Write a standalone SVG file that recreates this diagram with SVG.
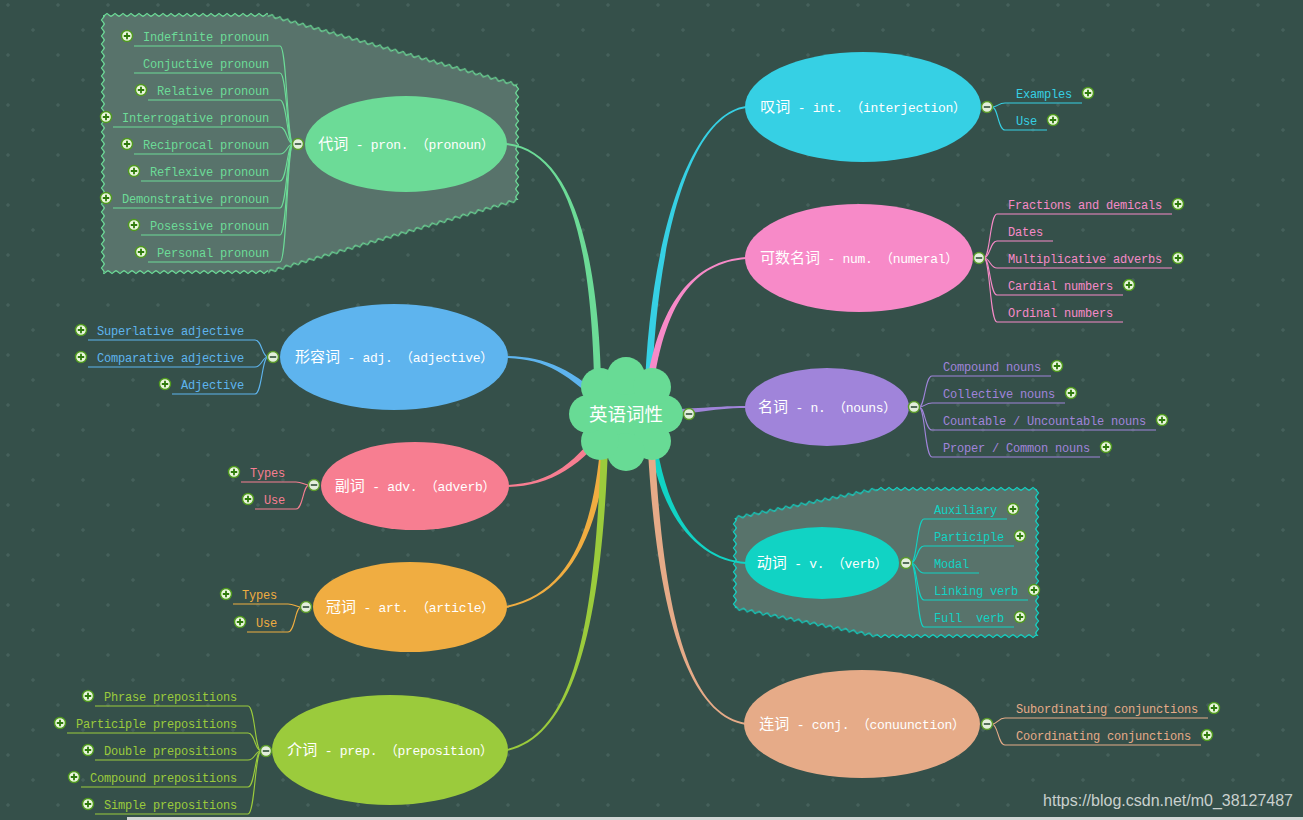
<svg xmlns="http://www.w3.org/2000/svg" xmlns:xlink="http://www.w3.org/1999/xlink" width="1303" height="820" viewBox="0 0 1303 820">
<style>
.bnd{fill:#58736b}
.lf{font-family:"Liberation Mono","DejaVu Sans Mono",monospace;font-size:12px;letter-spacing:-0.2px}
.le{text-anchor:end}
.mt{font-family:"Liberation Mono","Noto Sans CJK SC",monospace;font-size:13px;letter-spacing:-0.3px;fill:#ffffff;text-anchor:middle}
.cj{font-family:"Noto Sans CJK SC",sans-serif;font-size:15px;letter-spacing:0}
.lk{fill:none;stroke-width:1.1}
.wm{font-family:"Liberation Sans",Arial,sans-serif;font-size:16px;fill:#c9d0ce;text-anchor:end}
</style>
<defs>
<pattern id="dots" width="50" height="50" patternUnits="userSpaceOnUse">
<path d="M8 3v4M6 5h4M33 28v4M31 30h4" stroke="#4a655f" stroke-width="1"/>
</pattern>
<pattern id="zzg" width="8" height="6" x="0" y="-3" patternUnits="userSpaceOnUse">
<path d="M0 4.5L4 1.5L8 4.5" fill="none" stroke="#6cdb97" stroke-width="1.2"/>
</pattern>
<pattern id="zzc" width="8" height="6" x="0" y="-3" patternUnits="userSpaceOnUse">
<path d="M0 4.5L4 1.5L8 4.5" fill="none" stroke="#11d3c4" stroke-width="1.2"/>
</pattern>
<g id="pl"><circle r="5.5" fill="#eaf6dc" stroke="#4f9a1e" stroke-width="1.4"/><path d="M-3.2 0H3.2M0-3.2V3.2" stroke="#2f7a0c" stroke-width="1.8"/></g>
<g id="mi"><circle r="5.5" fill="#e3eedc" stroke="#5a9a2a" stroke-width="1.4"/><path d="M-3.2 0H3.2" stroke="#44604a" stroke-width="1.8"/></g>
</defs>
<rect width="1303" height="820" fill="#35504a"/>
<rect width="1303" height="820" fill="url(#dots)"/>

<g id="boundaries">
<g id="b-pron">
<polygon class="bnd" points="103,15 268,15 517,85 517,200 268,272 103,272"/>
<g fill="url(#zzg)">
<rect transform="translate(103,15)" x="0" y="-3" width="165" height="6"/>
<rect transform="translate(268,15) rotate(15.70)" x="0" y="-3" width="259" height="6"/>
<rect transform="translate(517,85) rotate(90)" x="0" y="-3" width="115" height="6"/>
<rect transform="translate(517,200) rotate(163.87)" x="0" y="-3" width="259" height="6"/>
<rect transform="translate(268,272) rotate(180)" x="0" y="-3" width="165" height="6"/>
<rect transform="translate(103,272) rotate(-90)" x="0" y="-3" width="257" height="6"/>
</g>
</g>
<g id="b-verb">
<polygon class="bnd" points="735,518 877,489 1037,489 1037,636 877,636 735,608"/>
<g fill="url(#zzc)">
<rect transform="translate(735,518) rotate(-11.54)" x="0" y="-3" width="145" height="6"/>
<rect transform="translate(877,489)" x="0" y="-3" width="160" height="6"/>
<rect transform="translate(1037,489) rotate(90)" x="0" y="-3" width="147" height="6"/>
<rect transform="translate(1037,636) rotate(180)" x="0" y="-3" width="160" height="6"/>
<rect transform="translate(877,636) rotate(-168.85)" x="0" y="-3" width="145" height="6"/>
<rect transform="translate(735,608) rotate(-90)" x="0" y="-3" width="90" height="6"/>
</g>
</g>
</g>

<g id="connectors">
<path fill="#6cdb97" d="M601.5 400C599.5 230 565.1 149 506.1 143L505.9 145C564.9 151 592.5 230 594.5 400Z"/>
<path fill="#5eb4ee" d="M612.5 407.5C572.5 367.5 545 357 506 356L506 358C545 359 567.5 372.5 607.5 412.5Z"/>
<path fill="#f77e91" d="M612.9 421.9C582.9 466.9 550 486 506 487L506 485C550 484 577.1 463.1 607.1 418.1Z"/>
<path fill="#f0ad41" d="M608.5 430C601.5 540 565.2 596 506.2 608L505.8 606C564.8 594 594.5 540 601.5 430Z"/>
<path fill="#9bcb3c" d="M608.5 430C603.5 620 575.2 736 507.2 751L506.8 749C574.8 734 596.5 620 601.5 430Z"/>
<path fill="#36d0e4" d="M651.5 400C655.5 240 690 116 746 108L746 106C690 114 648.5 240 644.5 400Z"/>
<path fill="#f78ac8" d="M651.5 400C663.5 300 695 263 746 259L746 257C695 261 656.5 300 644.5 400Z"/>
<path fill="#a084da" d="M640 410C690 410 710 406 746 406L746 408C710 408 690 416 640 416Z"/>
<path fill="#11d3c4" d="M653.5 420C663.5 520 700 559 746 562L746 564C700 561 656.5 520 646.5 420Z"/>
<path fill="#e6ab88" d="M653.5 420C661.5 620 690 714 746 723L746 725C690 716 654.5 620 646.5 420Z"/>

<g class="lk" stroke="#6cdb97">
<path d="M293 144C287 144 287 46 280 46H134"/>
<path d="M293 144C287 144 287 73 280 73H134"/>
<path d="M293 144C287 144 287 100 280 100H148"/>
<path d="M293 144C287 144 287 127 280 127H113"/>
<path d="M293 144C287 144 287 154 280 154H134"/>
<path d="M293 144C287 144 287 181 280 181H141"/>
<path d="M293 144C287 144 287 208 280 208H113"/>
<path d="M293 144C287 144 287 235 280 235H141"/>
<path d="M293 144C287 144 287 262 280 262H148"/>
</g>
<g class="lk" stroke="#5eb4ee">
<path d="M268 357C262 357 262 340 255 340H88"/>
<path d="M268 357C262 357 262 367 255 367H88"/>
<path d="M268 357C262 357 262 394 255 394H172"/>
</g>
<g class="lk" stroke="#f77e91">
<path d="M309 485C303 485 303 482 296 482H241"/>
<path d="M309 485C303 485 303 509 296 509H255"/>
</g>
<g class="lk" stroke="#f0ad41">
<path d="M301 607C295 607 295 604 288 604H233"/>
<path d="M301 607C295 607 295 632 288 632H247"/>
</g>
<g class="lk" stroke="#9bcb3c">
<path d="M261 751C255 751 255 706 248 706H95"/>
<path d="M261 751C255 751 255 733 248 733H67"/>
<path d="M261 751C255 751 255 760 248 760H95"/>
<path d="M261 751C255 751 255 787 248 787H81"/>
<path d="M261 751C255 751 255 814 248 814H95"/>
</g>
<g class="lk" stroke="#36d0e4">
<path d="M992 107C998 107 998 103 1005 103H1082"/>
<path d="M992 107C998 107 998 130 1005 130H1047"/>
</g>
<g class="lk" stroke="#f78ac8">
<path d="M984 258C990 258 990 214 997 214H1172"/>
<path d="M984 258C990 258 990 241 997 241H1053"/>
<path d="M984 258C990 258 990 268 997 268H1172"/>
<path d="M984 258C990 258 990 295 997 295H1123"/>
<path d="M984 258C990 258 990 322 997 322H1123"/>
</g>
<g class="lk" stroke="#a084da">
<path d="M919 407C925 407 925 376 932 376H1051"/>
<path d="M919 407C925 407 925 403 932 403H1065"/>
<path d="M919 407C925 407 925 430 932 430H1156"/>
<path d="M919 407C925 407 925 457 932 457H1100"/>
</g>
<g class="lk" stroke="#11d3c4">
<path d="M911 563C917 563 917 519 924 519H1007"/>
<path d="M911 563C917 563 917 546 924 546H1014"/>
<path d="M911 563C917 563 917 573 924 573H979"/>
<path d="M911 563C917 563 917 600 924 600H1028"/>
<path d="M911 563C917 563 917 627 924 627H1014"/>
</g>
<g class="lk" stroke="#e6ab88">
<path d="M992 724C998 724 998 718 1005 718H1208"/>
<path d="M992 724C998 724 998 745 1005 745H1201"/>
</g>
</g>

<g id="root">
<g fill="#68db95">
<circle cx="626" cy="414" r="42"/>
<circle cx="664" cy="414" r="19"/>
<circle cx="652" cy="441" r="19"/>
<circle cx="626" cy="452" r="19"/>
<circle cx="600" cy="441" r="19"/>
<circle cx="588" cy="414" r="19"/>
<circle cx="600" cy="387" r="19"/>
<circle cx="626" cy="376" r="19"/>
<circle cx="652" cy="387" r="19"/>
</g>
<text x="626" y="421" font-family="'Noto Sans CJK SC',sans-serif" font-size="18.5" fill="#ffffff" text-anchor="middle">英语词性</text>
<use href="#mi" x="689" y="414"/>
</g>

<g id="n-pron">
<ellipse cx="406" cy="144" rx="101" ry="48" fill="#6cdb97"/>
<text class="mt" x="406" y="149"><tspan class="cj">代词</tspan> - pron. （pronoun）</text>
<use href="#mi" x="298" y="144"/>
<g class="lf le" fill="#6cdb97">
<text x="269" y="41">Indefinite pronoun</text>
<text x="269" y="68">Conjuctive pronoun</text>
<text x="269" y="95">Relative pronoun</text>
<text x="269" y="122">Interrogative pronoun</text>
<text x="269" y="149">Reciprocal pronoun</text>
<text x="269" y="176">Reflexive pronoun</text>
<text x="269" y="203">Demonstrative pronoun</text>
<text x="269" y="230">Posessive pronoun</text>
<text x="269" y="257">Personal pronoun</text>
</g>
<use href="#pl" x="127" y="36"/><use href="#pl" x="141" y="90"/><use href="#pl" x="106" y="117"/><use href="#pl" x="127" y="144"/><use href="#pl" x="134" y="171"/><use href="#pl" x="106" y="198"/><use href="#pl" x="134" y="225"/><use href="#pl" x="141" y="252"/>
</g>

<g id="n-adj">
<ellipse cx="394" cy="357" rx="114" ry="53" fill="#5eb4ee"/>
<text class="mt" x="394" y="362"><tspan class="cj">形容词</tspan> - adj. （adjective）</text>
<use href="#mi" x="273" y="357"/>
<g class="lf le" fill="#5eb4ee">
<text x="244" y="335">Superlative adjective</text>
<text x="244" y="362">Comparative adjective</text>
<text x="244" y="389">Adjective</text>
</g>
<use href="#pl" x="81" y="330"/><use href="#pl" x="81" y="357"/><use href="#pl" x="165" y="384"/>
</g>

<g id="n-adv">
<ellipse cx="415" cy="486" rx="94" ry="44" fill="#f77e91"/>
<text class="mt" x="415" y="491"><tspan class="cj">副词</tspan> - adv. （adverb）</text>
<use href="#mi" x="314" y="485"/>
<g class="lf le" fill="#f77e91">
<text x="285" y="477">Types</text>
<text x="285" y="504">Use</text>
</g>
<use href="#pl" x="234" y="472"/><use href="#pl" x="248" y="499"/>
</g>

<g id="n-art">
<ellipse cx="410" cy="607" rx="97" ry="45" fill="#f0ad41"/>
<text class="mt" x="410" y="612"><tspan class="cj">冠词</tspan> - art. （article）</text>
<use href="#mi" x="306" y="607"/>
<g class="lf le" fill="#f0ad41">
<text x="277" y="599">Types</text>
<text x="277" y="627">Use</text>
</g>
<use href="#pl" x="226" y="594"/><use href="#pl" x="240" y="622"/>
</g>

<g id="n-prep">
<ellipse cx="390" cy="750" rx="118" ry="55" fill="#9bcb3c"/>
<text class="mt" x="390" y="755"><tspan class="cj">介词</tspan> - prep. （preposition）</text>
<use href="#mi" x="266" y="751"/>
<g class="lf le" fill="#9bcb3c">
<text x="237" y="701">Phrase prepositions</text>
<text x="237" y="728">Participle prepositions</text>
<text x="237" y="755">Double prepositions</text>
<text x="237" y="782">Compound prepositions</text>
<text x="237" y="809">Simple prepositions</text>
</g>
<use href="#pl" x="88" y="696"/><use href="#pl" x="60" y="723"/><use href="#pl" x="88" y="750"/><use href="#pl" x="74" y="777"/><use href="#pl" x="88" y="804"/>
</g>

<g id="n-int">
<ellipse cx="863" cy="107" rx="118" ry="55" fill="#36d0e4"/>
<text class="mt" x="863" y="112"><tspan class="cj">叹词</tspan> - int. （interjection）</text>
<use href="#mi" x="987" y="107"/>
<g class="lf" fill="#36d0e4">
<text x="1016" y="98">Examples</text>
<text x="1016" y="125">Use</text>
</g>
<use href="#pl" x="1088" y="93"/><use href="#pl" x="1053" y="120"/>
</g>

<g id="n-num">
<ellipse cx="859" cy="258" rx="114" ry="54" fill="#f78ac8"/>
<text class="mt" x="859" y="263"><tspan class="cj">可数名词</tspan> - num. （numeral）</text>
<use href="#mi" x="979" y="258"/>
<g class="lf" fill="#f78ac8">
<text x="1008" y="209">Fractions and demicals</text>
<text x="1008" y="236">Dates</text>
<text x="1008" y="263">Multiplicative adverbs</text>
<text x="1008" y="290">Cardial numbers</text>
<text x="1008" y="317">Ordinal numbers</text>
</g>
<use href="#pl" x="1178" y="204"/><use href="#pl" x="1178" y="258"/><use href="#pl" x="1129" y="285"/>
</g>

<g id="n-noun">
<ellipse cx="827" cy="407" rx="82" ry="39" fill="#a084da"/>
<text class="mt" x="827" y="412"><tspan class="cj">名词</tspan> - n. （nouns）</text>
<use href="#mi" x="914" y="407"/>
<g class="lf" fill="#a084da">
<text x="943" y="371">Compound nouns</text>
<text x="943" y="398">Collective nouns</text>
<text x="943" y="425">Countable / Uncountable nouns</text>
<text x="943" y="452">Proper / Common nouns</text>
</g>
<use href="#pl" x="1057" y="366"/><use href="#pl" x="1071" y="393"/><use href="#pl" x="1162" y="420"/><use href="#pl" x="1106" y="447"/>
</g>

<g id="n-verb">
<ellipse cx="822" cy="563" rx="77" ry="36" fill="#11d3c4"/>
<text class="mt" x="822" y="568"><tspan class="cj">动词</tspan> - v. （verb）</text>
<use href="#mi" x="906" y="563"/>
<g class="lf" fill="#11d3c4">
<text x="934" y="514">Auxiliary</text>
<text x="934" y="541">Participle</text>
<text x="934" y="568">Modal</text>
<text x="934" y="595">Linking verb</text>
<text x="934" y="622" xml:space="preserve">Full  verb</text>
</g>
<use href="#pl" x="1013" y="509"/><use href="#pl" x="1020" y="536"/><use href="#pl" x="1034" y="590"/><use href="#pl" x="1020" y="617"/>
</g>

<g id="n-conj">
<ellipse cx="862" cy="724" rx="118" ry="54" fill="#e6ab88"/>
<text class="mt" x="862" y="729"><tspan class="cj">连词</tspan> - conj. （conuunction）</text>
<use href="#mi" x="987" y="724"/>
<g class="lf" fill="#e6ab88">
<text x="1016" y="713">Subordinating conjunctions</text>
<text x="1016" y="740">Coordinating conjunctions</text>
</g>
<use href="#pl" x="1214" y="708"/><use href="#pl" x="1207" y="735"/>
</g>

<text class="wm" x="1293" y="806">https://blog.csdn.net/m0_38127487</text>
<rect x="127" y="817" width="1176" height="3" fill="#d3d7d6"/>
</svg>
